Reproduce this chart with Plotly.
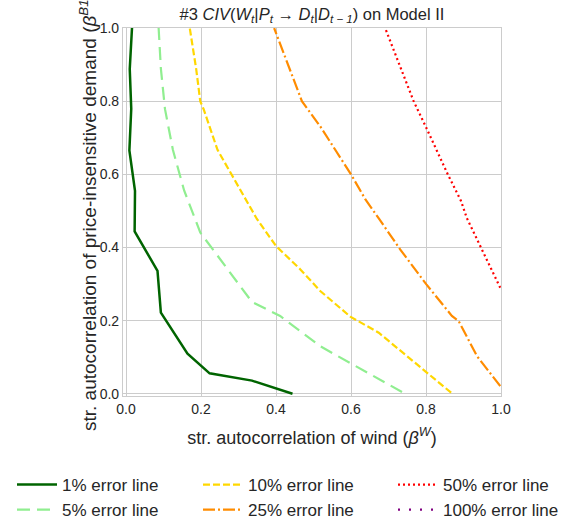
import plotly.graph_objects as go

# ---- data ----
err1_x = [0.444, 0.336, 0.223, 0.164, 0.093, 0.084, 0.023, 0.024, 0.009, 0.014, 0.010, 0.016]
err1_y = [0.0, 0.036, 0.056, 0.110, 0.222, 0.336, 0.444, 0.555, 0.665, 0.779, 0.888, 1.0]

err5_x = [0.736, 0.667, 0.598, 0.518, 0.444, 0.411, 0.336, 0.276, 0.198, 0.155, 0.125, 0.104, 0.093, 0.087]
err5_y = [0.005, 0.045, 0.085, 0.130, 0.187, 0.213, 0.251, 0.333, 0.441, 0.556, 0.667, 0.778, 0.889, 1.0]

err10_x = [0.867, 0.803, 0.740, 0.674, 0.598, 0.518, 0.465, 0.400, 0.349, 0.305, 0.244, 0.207, 0.198, 0.187, 0.170]
err10_y = [0.003, 0.058, 0.111, 0.167, 0.211, 0.281, 0.340, 0.404, 0.478, 0.556, 0.667, 0.778, 0.800, 0.889, 1.0]

err25_x = [0.998, 0.936, 0.887, 0.869, 0.801, 0.731, 0.675, 0.638, 0.600, 0.518, 0.469, 0.436, 0.395]
err25_y = [0.021, 0.103, 0.199, 0.213, 0.299, 0.395, 0.478, 0.532, 0.600, 0.731, 0.800, 0.889, 1.0]

err50_x = [0.998, 0.949, 0.909, 0.893, 0.858, 0.800, 0.767, 0.691]
err50_y = [0.290, 0.395, 0.480, 0.528, 0.600, 0.729, 0.800, 1.0]

err100_x = []
err100_y = []

labels = ["1% error line", "5% error line", "10% error line",
          "25% error line", "50% error line", "100% error line"]
ticks = [0.0, 0.2, 0.4, 0.6, 0.8, 1.0]
tick_text = ["0.0", "0.2", "0.4", "0.6", "0.8", "1.0"]
x_title = "str. autocorrelation of wind (<i>β<sup>W</sup></i>)"
y_title = "str. autocorrelation of price-insensitive demand (<i>β<sup>B1</sup></i>)"

series = [
    (err1_x, err1_y, "darkgreen", "solid", 2.5),
    (err5_x, err5_y, "lightgreen", "13px,7px", 2.2),
    (err10_x, err10_y, "gold", "7px,3px", 2.2),
    (err25_x, err25_y, "darkorange", "12px,3px,2px,3px", 2.2),
    (err50_x, err50_y, "red", "2px,3px", 2.2),
    (err100_x, err100_y, "purple", "2px,9px", 2.2),
]
# legend columns in the reference (2 rows x 3 cols, filled column-wise)
legend_ids = ["legend", "legend", "legend2", "legend2", "legend3", "legend3"]

FONT = "Liberation Sans, Arial, sans-serif"
TXT = "#262626"

fig = go.Figure()
for (xs, ys, col, dash, w), lab, lg in zip(series, labels, legend_ids):
    fig.add_trace(go.Scatter(
        x=xs if xs else [None], y=ys if ys else [None], mode="lines", name=lab,
        line=dict(color=col, dash=dash, width=w),
        legend=lg, showlegend=True,
    ))

axis_common = dict(
    tickvals=ticks, ticktext=tick_text,
    showgrid=True, gridcolor="#cccccc", gridwidth=1,
    showline=True, linecolor="#cccccc", linewidth=1.2, mirror=True,
    zeroline=False, ticks="", tickfont=dict(family=FONT, size=14, color=TXT),
)

L, R, T, B = 123, 501, 28, 396
W, H = 564, 527


def leg(xpx, ypx):
    return dict(
        orientation="v", xref="container", yref="container",
        x=xpx / W, y=1 - ypx / H, xanchor="left", yanchor="top",
        font=dict(family=FONT, size=17, color=TXT),
        itemwidth=40, traceorder="normal", bgcolor="rgba(0,0,0,0)",
    )


fig.update_layout(
    width=W, height=H,
    margin=dict(l=L, r=W - R, t=T, b=H - B, autoexpand=False),
    paper_bgcolor="white", plot_bgcolor="white",
    font=dict(family=FONT, color=TXT),
    title=dict(
        text="#3 <i>CIV</i>(<i>W<sub>t</sub></i>|<i>P<sub>t</sub></i> → <i>D<sub>t</sub></i>|<i>D<sub>t − 1</sub></i>) on Model II",
        x=(L + R) / 2 / W, xanchor="center", y=1 - 14 / H, yanchor="middle",
        font=dict(family=FONT, size=16.5, color=TXT),
    ),
    xaxis=dict(range=[-0.008, 1.0], title=dict(text=x_title,
               font=dict(family=FONT, size=18, color=TXT)), **axis_common),
    yaxis=dict(range=[-0.006, 1.0], **axis_common),
    legend=leg(12, 467),
    legend2=leg(198, 467),
    legend3=leg(393, 467),
)

fig.add_annotation(
    text=y_title, textangle=-90, showarrow=False,
    xref="paper", yref="paper", x=(88 - L) / (R - L), y=0.5,
    xanchor="center", yanchor="middle",
    font=dict(family=FONT, size=19, color=TXT),
)

fig.write_html("out.html")
